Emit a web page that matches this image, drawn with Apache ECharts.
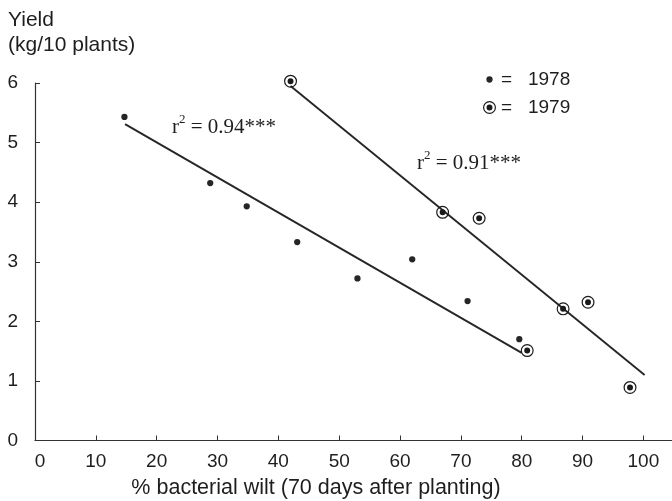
<!DOCTYPE html>
<html>
<head>
<meta charset="utf-8">
<script src="https://cdn.jsdelivr.net/npm/echarts@6/dist/echarts.min.js"></script>
<style>
html, body { margin: 0; padding: 0; background: #fff; }
#main { width: 672px; height: 501px; }
</style>
</head>
<body>
<div id="main"></div>
<script>
// points: % bacterial wilt vs yield (kg/10 plants)
let wilt1978 = [14.7, 28.8, 34.8, 43.1, 53.0, 62.0, 71.1, 79.6];
let yield1978 = [5.43, 4.32, 3.93, 3.33, 2.72, 3.04, 2.34, 1.70];
let wilt1979 = [42.0, 67.0, 73.0, 80.9, 86.8, 90.9, 97.8];
let yield1979 = [6.03, 3.83, 3.73, 1.51, 2.21, 2.32, 0.89];
// regression lines, end points as drawn
let fit1978 = [[14.8, 5.31], [80.0, 1.47]];
let fit1979 = [[42.0, 5.95], [100.2, 1.10]];
let xTicks = [0, 10, 20, 30, 40, 50, 60, 70, 80, 90, 100];
let years = ['1978', '1979'];

let ink = '#1e1e1e';
let sans = "'Liberation Sans', Arial, sans-serif";
let serif = "'Liberation Serif', 'Times New Roman', serif";

// dot padded to a 24 box so it sits small in a 13px symbol
let dotPath = 'path://M0 0 L0.01 0 Z M24 24 L23.99 24 Z M12 6.2 A5.8 5.8 0 1 1 12 17.8 A5.8 5.8 0 1 1 12 6.2 Z';
// ring with a dot in the middle
let ringPath = 'path://M12 0 A12 12 0 1 1 12 24 A12 12 0 1 1 12 0 Z ' +
  'M12 2.2 A9.8 9.8 0 1 0 12 21.8 A9.8 9.8 0 1 0 12 2.2 Z ' +
  'M12 6.5 A5.5 5.5 0 1 1 12 17.5 A5.5 5.5 0 1 1 12 6.5 Z';

function pairs(xs, ys) {
  return xs.map(function (x, i) { return [x, ys[i]]; });
}

function rText(r) {
  return {
    text: 'r{s|2} = ' + r + '***', font: '21px ' + serif, fill: ink, verticalAlign: 'middle',
    rich: { s: { fontSize: 13, fontFamily: serif, padding: [0, 0, 15, 0] } }
  };
}

let chart = echarts.init(document.getElementById('main'));

let option = {
  animation: false,
  backgroundColor: '#fff',
  grid: { left: 35, right: 0, top: 83, bottom: 60.5 },
  xAxis: {
    type: 'value',
    min: 0,
    max: 104.7,
    splitLine: { show: false },
    axisLine: { lineStyle: { color: '#333', width: 1.2 } },
    axisTick: { inside: true, length: 5, customValues: xTicks, lineStyle: { color: '#333' } },
    axisLabel: {
      customValues: xTicks, margin: 12, fontSize: 19, fontFamily: sans, color: ink,
      formatter: function (v) { return v === 0 ? '{z|0}' : String(v); },
      rich: { z: { fontSize: 19, fontFamily: sans, color: ink, padding: [0, 0, 0, 10] } }
    }
  },
  yAxis: {
    type: 'value',
    min: 0,
    max: 6,
    interval: 1,
    splitLine: { show: false },
    axisLine: { show: true, lineStyle: { color: '#333', width: 1.2 } },
    axisTick: { show: true, inside: true, length: 5, lineStyle: { color: '#333' } },
    axisLabel: { margin: 17, fontSize: 19, fontFamily: sans, color: ink }
  },
  legend: {
    orient: 'vertical',
    left: 478,
    top: 64,
    itemWidth: 13,
    itemHeight: 13,
    itemGap: 7,
    formatter: '=   {name}',
    textStyle: { fontSize: 19, fontFamily: sans, color: ink, lineHeight: 21 },
    data: [{ name: years[0], icon: dotPath }, { name: years[1], icon: ringPath }]
  },
  graphic: [
    {
      type: 'text', x: 8, y: 8,
      style: { text: 'Yield\n(kg/10 plants)', font: '21px ' + sans, fill: ink, lineHeight: 24.5 }
    },
    {
      type: 'text', x: 316, y: 488,
      style: { text: '% bacterial wilt (70 days after planting)', font: '21.5px ' + sans, fill: ink, align: 'center', verticalAlign: 'middle' }
    },
    { type: 'text', x: 172, y: 127, style: rText('0.94') },
    { type: 'text', x: 417, y: 163, style: rText('0.91') }
  ],
  series: [
    {
      name: 'fit1978', type: 'line', data: fit1978, symbol: 'none', z: 1,
      lineStyle: { color: '#262626', width: 1.9 }
    },
    {
      name: 'fit1979', type: 'line', data: fit1979, symbol: 'none', z: 1,
      lineStyle: { color: '#262626', width: 1.9 }
    },
    {
      name: years[0], type: 'scatter', data: pairs(wilt1978, yield1978), z: 3, clip: false,
      symbol: dotPath, symbolSize: 13, symbolKeepAspect: true,
      itemStyle: { color: '#262626', opacity: 1 }
    },
    {
      name: years[1], type: 'scatter', data: pairs(wilt1979, yield1979), z: 3, clip: false,
      symbol: ringPath, symbolSize: 13, symbolKeepAspect: true,
      itemStyle: { color: '#1a1a1a', opacity: 1 }
    }
  ]
};

chart.setOption(option);
</script>
</body>
</html>
